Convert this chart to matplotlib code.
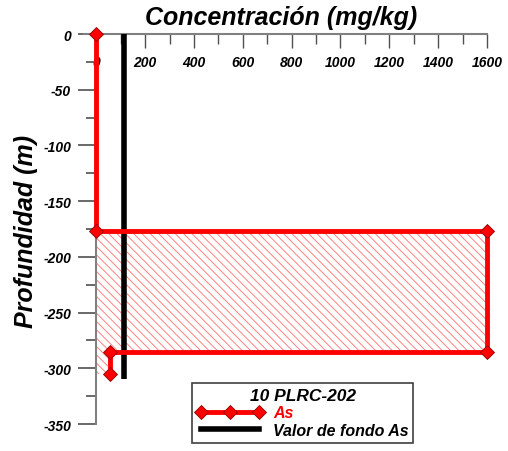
import numpy as np
import matplotlib.pyplot as plt
from matplotlib.ticker import MultipleLocator
from matplotlib.lines import Line2D

plt.rcParams['font.family'] = ['Liberation Sans', 'DejaVu Sans']
plt.rcParams['font.weight'] = 'bold'
plt.rcParams['font.style'] = 'italic'
plt.rcParams['hatch.linewidth'] = 0.7

# Arsenic profile along the drill hole (mg/kg vs depth in m)
as_conc = [0, 0, 1600, 1600, 57, 57]
depth = [0, -177, -177, -285, -285, -305]

# Background value for As
fondo_as = 115
fondo_depth = [0, -310]

xticks = [0, 200, 400, 600, 800, 1000, 1200, 1400, 1600]
yticks = [0, -50, -100, -150, -200, -250, -300, -350]

fig = plt.figure(figsize=(5.08, 4.52), dpi=100)
ax = fig.add_axes([0.1654, 0.0597, 0.7933, 0.8628])

ax.set_xlim(-50, 1600)
ax.set_ylim(-350, 0)

# Hatched area enclosed by the profile
ax.fill(as_conc + [0], depth + [depth[-1]], facecolor='none',
        edgecolor='#ff8080', hatch='\\\\\\\\', linewidth=0, zorder=1)

ax.plot([fondo_as, fondo_as], fondo_depth, color='black', lw=4,
        solid_capstyle='butt', zorder=3)
ax.plot(as_conc, depth, color='#ff0000', lw=3.5, marker='D', ms=7,
        mfc='#ff0000', mec='#8b0000', mew=0.6, zorder=4, clip_on=False)

# Spines: top axis for concentration, left axis at x = 0
for s in ['right', 'bottom']:
    ax.spines[s].set_visible(False)
ax.spines['left'].set_position(('data', 0))
ax.spines['left'].set_bounds(-350, 0)
for s in ['left', 'top']:
    ax.spines[s].set_color('#808080')
    ax.spines[s].set_linewidth(1.5)

tick_font = dict(fontsize=10, fontweight='bold', fontstyle='italic')

ax.xaxis.tick_top()
ax.set_xticks(xticks)
ax.xaxis.set_minor_locator(MultipleLocator(100))
ax.tick_params(axis='x', which='both', direction='in', colors='#505050',
               labelcolor='black', pad=-25)
ax.tick_params(axis='x', which='major', length=10, width=1)
ax.tick_params(axis='x', which='minor', length=7, width=1)
ax.set_xticklabels([str(v) for v in xticks], **tick_font)

ax.set_yticks(yticks)
ax.yaxis.set_minor_locator(MultipleLocator(25))
ax.tick_params(axis='y', which='both', direction='out', colors='#505050',
               labelcolor='black', pad=5)
ax.tick_params(axis='y', which='major', length=13, width=1.2)
ax.tick_params(axis='y', which='minor', length=7, width=1.2)
ax.set_yticklabels([str(v) for v in yticks], **tick_font)

fig.text(281 / 508, 1 - 18 / 452, 'Concentración (mg/kg)', fontsize=18,
         ha='center', va='center', fontweight='bold', fontstyle='italic')
fig.text(26 / 508, 1 - 231 / 452, 'Profundidad (m)', fontsize=18,
         rotation=90, ha='center', va='center',
         fontweight='bold', fontstyle='italic')

handles = [
    Line2D([], [], color='#ff0000', lw=3.5, marker='D', ms=7,
           mfc='#ff0000', mec='#8b0000', mew=0.6),
    Line2D([], [], color='black', lw=4),
]
leg = fig.legend(handles, ['As', 'Valor de fondo As'], title='10 PLRC-202',
                 loc='center', bbox_to_anchor=(187 / 508, 2 / 452, 231 / 508, 72 / 452),
                 fancybox=False, edgecolor='#404040', framealpha=1,
                 numpoints=3, handlelength=4.2, fontsize=11.5,
                 title_fontsize=12.5, borderpad=0.3, labelspacing=0.15,
                 handletextpad=0.6)
leg.get_frame().set_linewidth(1.2)
leg.get_texts()[0].set_color('#ff0000')
leg.get_title().set_fontweight('bold')
leg.get_title().set_fontstyle('italic')

fig.savefig('out.png', dpi=100)
